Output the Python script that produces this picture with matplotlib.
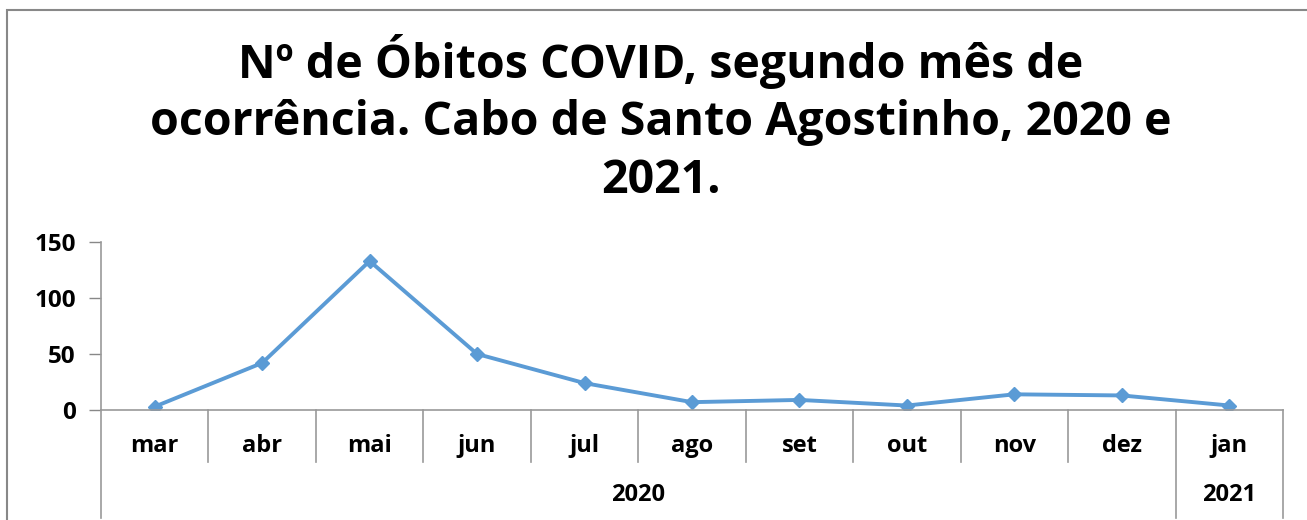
import matplotlib.pyplot as plt
from matplotlib.patches import Rectangle
import numpy as np

months = ['mar', 'abr', 'mai', 'jun', 'jul', 'ago', 'set', 'out', 'nov', 'dez', 'jan']
obitos = [3, 42, 133, 50, 24, 7, 9, 4, 14, 13, 4]
years = ['2020', '2021']
year_span = [(0, 9), (10, 10)]   # first and last month index for each year
yticks = [0, 50, 100, 150]

plt.rcParams['font.family'] = ['Open Sans', 'DejaVu Sans']
plt.rcParams['font.weight'] = 'bold'

W, H = 1307, 520
fig = plt.figure(figsize=(W / 100, H / 100), dpi=100)

# outer chart border (only top and left visible in the crop)
fig.patches.append(Rectangle((7 / W, -0.1), 1.2, 1 - 10 / H + 0.1, transform=fig.transFigure,
                             fill=False, edgecolor='#888888', linewidth=1.5))

ax = fig.add_axes([101 / W, 110 / H, (1283 - 101) / W, 168 / H])
x = np.arange(len(months))
ax.plot(x, obitos, color='#5B9BD5', linewidth=2.8, marker='D', markersize=7.5)

ax.set_xlim(-0.5, len(months) - 0.5)
ax.set_ylim(0, 150)
ax.set_yticks(yticks)
ax.set_yticklabels([str(v) for v in yticks], fontsize=17.5, fontweight='bold')
ax.tick_params(axis='y', length=9, width=1, color='#888888', pad=9)
ax.set_xticks([])
for s in ['top', 'right']:
    ax.spines[s].set_visible(False)
for s in ['left', 'bottom']:
    ax.spines[s].set_color('#999999')
    ax.spines[s].set_linewidth(1.2)

trans = ax.get_xaxis_transform()
month_depth = -(462 - 410) / 168
full_depth = -(518 - 410) / 168

# category separators
for i in range(len(months) + 1):
    xb = i - 0.5
    is_year_edge = any(xb == a - 0.5 or xb == b + 0.5 for a, b in year_span)
    y0 = full_depth if is_year_edge else month_depth
    ax.plot([xb, xb], [0, y0], transform=trans, color='#999999', linewidth=1.2, clip_on=False)

for i, m in enumerate(months):
    ax.text(i, -(446 - 410) / 168, m, transform=trans, ha='center', va='center',
            fontsize=17, fontweight='bold')
for yr, (a, b) in zip(years, year_span):
    ax.text((a + b) / 2, -(495 - 410) / 168, yr, transform=trans, ha='center', va='center',
            fontsize=17, fontweight='bold')

fig.text(661 / W, 1 - 119 / H,
         'Nº de Óbitos COVID, segundo mês de\nocorrência. Cabo de Santo Agostinho, 2020 e\n2021.',
         ha='center', va='center', fontsize=33.5, fontweight='bold', linespacing=1.3)

fig.savefig('out.png', dpi=100)
